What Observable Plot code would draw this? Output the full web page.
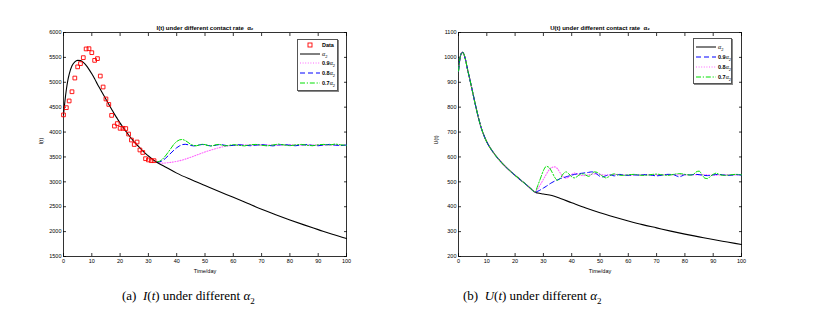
<!DOCTYPE html>
<html><head><meta charset="utf-8">
<script src="https://cdn.jsdelivr.net/npm/d3@7"></script>
<script src="https://cdn.jsdelivr.net/npm/@observablehq/plot@0.6"></script>
<style>
body{margin:0;background:#fff;}
#wrap{position:relative;width:815px;height:323px;background:#fff;overflow:hidden;}
.pl{position:absolute;top:0;}
.leg{position:absolute;border:0.8px solid #555;background:#fff;font-family:"Liberation Sans",Arial,sans-serif;font-size:5.5px;font-weight:bold;box-shadow:1px 1px 0 #888;}
.leg .row{position:absolute;left:0;height:8px;white-space:nowrap;}
.leg svg{position:absolute;left:0;top:0;}
.leg span{position:absolute;top:1px;}
.cap{position:absolute;font-family:"Liberation Serif","Times New Roman",serif;font-size:13px;white-space:nowrap;}
</style></head>
<body><div id="wrap"></div>
<script>
// ---------- data: I(t) panel ----------
const dataDays = [0,1,2,3,4,5,6,7,8,9,10,11,12,13,14,15,16,17,18,19,20,21,22,23,24,25,26,27,28,29,30,31,32];
const dataI = [4345,4490,4625,4810,5085,5310,5375,5495,5670,5675,5595,5440,5475,5125,4905,4665,4555,4335,4120,4170,4075,4075,4070,3960,3840,3750,3800,3640,3590,3465,3440,3425,3425];

const iBaseT = [0,0.5,1,1.5,2,3,4,5,6,7,8,9,10,11,12,13,14,15,16,17,18,19,20,21,22,23,24,25,26,27,28,30,32,34,36,40,45,50,55,60,65,70,75,80,85,90,95,100];
const iBase  = [4350,4620,4850,5030,5160,5330,5410,5440,5435,5400,5340,5260,5170,5070,4960,4860,4760,4660,4560,4460,4360,4270,4180,4100,4020,3940,3870,3800,3740,3680,3620,3520,3430,3360,3300,3175,3045,2925,2805,2690,2570,2450,2340,2235,2135,2040,1945,1860];

const iPinkT = [33,34,35,36,38,40,42,44,46,48,50,52,54,56,58,60,62,65,70,75,80,85,90,95,100];
const iPink  = [3395,3380,3375,3378,3392,3410,3438,3475,3515,3558,3600,3637,3672,3700,3722,3735,3742,3740,3742,3738,3742,3740,3738,3742,3740];

const iBlueT = [33,34,35,36,37,38,39,40,41,42,43,44,45,46,47,48,49,50,51,52,53,54,55,56,57,58,60,62,64,66,68,70,72,74,76,78,80,82,84,86,88,90,92,94,96,98,100];
const iBlue  = [3395,3402,3425,3470,3525,3580,3635,3685,3722,3748,3755,3745,3730,3722,3728,3742,3750,3745,3732,3722,3725,3738,3748,3745,3735,3725,3732,3745,3735,3725,3738,3748,3735,3722,3740,3750,3735,3725,3740,3748,3732,3725,3740,3752,3738,3728,3740];

const iGreenT = [33,34,35,36,37,38,39,40,41,42,43,44,45,46,47,48,49,50,51,52,53,54,55,56,57,58,60,62,64,66,68,70,72,74,76,78,80,82,84,86,88,90,92,94,96,98,100];
const iGreen  = [3395,3415,3455,3520,3595,3675,3755,3812,3843,3852,3832,3792,3752,3728,3725,3740,3755,3748,3730,3720,3730,3748,3752,3738,3722,3728,3748,3732,3722,3745,3752,3735,3722,3740,3758,3740,3725,3742,3752,3735,3725,3745,3752,3738,3760,3742,3735];

// ---------- data: U(t) panel ----------
const uBaseT = [0,0.5,1,1.5,2,2.5,3,4,5,6,7,8,9,10,12,14,16,18,20,22,24,26,27];
const uBase  = [945,995,1016,1020,1010,990,962,912,860,808,760,718,686,660,623,593,568,546,526,507,488,468,458];
const uBlackT = [28,30,33,36,40,45,50,55,60,65,70,75,80,85,90,95,100];
const uBlack  = [455,451,445,433,416,395,376,359,343,328,315,302,290,279,268,258,248];

const uBlueT = [28,29,30,31,32,33,34,35,36,38,40,42,44,46,47,48,49,50,51,52,53,54,55,56,57,58,60,62,64,66,68,70,72,74,76,77,78,79,80,82,84,86,88,90,92,94,96,98,100];
const uBlue  = [462,468,475,482,490,497,503,508,513,520,527,532,535,538,540,538,530,522,520,524,528,527,524,526,530,528,526,528,527,529,527,524,527,530,529,524,520,524,529,528,530,527,525,528,530,527,526,529,527];

const uPinkT = [28,29,30,31,32,33,34,35,36,37,38,39,40,41,42,43,44,46,48,50,52,54,56,58,60,65,70,75,80,85,90,95,100];
const uPink  = [472,490,510,530,548,558,560,552,535,520,515,520,530,535,532,527,525,528,532,530,527,528,530,528,527,528,528,529,528,529,527,528,528];

const uGreenT = [28,29,30,31,32,33,34,35,36,37,38,39,40,41,42,43,44,45,46,47,48,49,50,51,52,53,54,55,56,58,60,62,64,66,68,70,72,74,76,78,80,82,83,84,85,86,87,88,89,90,91,92,94,96,98,100];
const uGreen  = [485,515,545,562,558,540,518,506,515,532,540,532,520,516,522,530,532,527,522,530,540,538,530,522,516,520,528,532,529,526,528,530,527,526,529,531,528,526,530,533,530,527,530,540,543,530,515,513,522,530,535,530,526,528,530,528];

const xTicks = [0,10,20,30,40,50,60,70,80,90,100];
const iTicks = [1500,2000,2500,3000,3500,4000,4500,5000,5500,6000];
const uTicks = [200,300,400,500,600,700,800,900,1000,1100];

// ---------- helpers ----------
const sans = "'Liberation Sans', Arial, Helvetica, sans-serif";
const zip = (ts, vs) => ts.map((t, i) => ({t, v: vs[i]}));
const C = {black:"#000", pink:"#ff66ff", blue:"#0000ff", green:"#00e000", red:"#ff0000"};
const D = {pink:"1,1.6", blue:"5,3", green:"5,1.8,1.2,1.8"};
const plain = d => String(d);

function frameAxes(ticks) {
  return [
    Plot.frame({stroke:"#000", strokeWidth:0.8}),
    Plot.axisX({ticks:xTicks, tickSize:-3, tickPadding:6, fontSize:5.5, tickFormat:plain, label:null, strokeWidth:0.8}),
    Plot.axisX({anchor:"top", ticks:xTicks, tickSize:-3, tickFormat:() => "", label:null, strokeWidth:0.8}),
    Plot.axisY({ticks:ticks, tickSize:-3, tickPadding:5, fontSize:5.5, tickFormat:plain, label:null, strokeWidth:0.8}),
    Plot.axisY({anchor:"right", ticks:ticks, tickSize:-3, tickFormat:() => "", label:null, strokeWidth:0.8})
  ];
}
function texts(title, ylab) {
  return [
    Plot.text([title], {text:d=>d, frameAnchor:"top", dy:-7, fontWeight:"bold", fontSize:6}),
    Plot.text(["Time/day"], {text:d=>d, frameAnchor:"bottom", dy:16, fontSize:5.5}),
    Plot.text([ylab], {text:d=>d, frameAnchor:"left", dx:-22, rotate:-90, fontSize:5.5})
  ];
}

// ---------- left panel ----------
const iBaseData = zip(iBaseT, iBase);
const left = Plot.plot({
  width:400, height:280, marginLeft:63, marginRight:54, marginTop:32, marginBottom:24,
  style:{fontFamily:sans, fontSize:"5.5px", background:"transparent", overflow:"visible"},
  x:{domain:[0,100]}, y:{domain:[1500,6000]},
  marks:[
    ...frameAxes(iTicks),
    Plot.line(zip(iPinkT, iPink), {x:"t", y:"v", stroke:C.pink, strokeWidth:1.1, strokeDasharray:D.pink}),
    Plot.line(zip(iBlueT, iBlue), {x:"t", y:"v", stroke:C.blue, strokeWidth:1, strokeDasharray:D.blue}),
    Plot.line(zip(iGreenT, iGreen), {x:"t", y:"v", stroke:C.green, strokeWidth:1, strokeDasharray:D.green}),
    Plot.line(iBaseData, {x:"t", y:"v", stroke:C.black, strokeWidth:1.1, curve:"monotone-x"}),
    Plot.dot(zip(dataDays, dataI), {x:"t", y:"v", symbol:"square", r:2.1, stroke:C.red, strokeWidth:0.9}),
    ...texts("I(t) under different contact rate  α₂", "I(t)")
  ]
});
left.classList.add("pl"); left.style.left = "0px";

// ---------- right panel ----------
const uBlackAll = zip(uBaseT.concat(uBlackT), uBase.concat(uBlack));
const right = Plot.plot({
  width:415, height:280, marginLeft:58, marginRight:74, marginTop:32, marginBottom:24,
  style:{fontFamily:sans, fontSize:"5.5px", background:"transparent", overflow:"visible"},
  x:{domain:[0,100]}, y:{domain:[200,1100]},
  marks:[
    ...frameAxes(uTicks),
    Plot.line(uBlackAll, {x:"t", y:"v", stroke:C.black, strokeWidth:1.1, curve:"monotone-x"}),
    Plot.line(zip(uBaseT.concat(uPinkT), uBase.concat(uPink)), {x:"t", y:"v", stroke:C.pink, strokeWidth:1.1, strokeDasharray:D.pink, curve:"monotone-x"}),
    Plot.line(zip(uBaseT.concat(uBlueT), uBase.concat(uBlue)), {x:"t", y:"v", stroke:C.blue, strokeWidth:1, strokeDasharray:D.blue, curve:"monotone-x"}),
    Plot.line(zip(uBaseT.concat(uGreenT), uBase.concat(uGreen)), {x:"t", y:"v", stroke:C.green, strokeWidth:1, strokeDasharray:D.green, curve:"monotone-x"}),
    ...texts("U(t) under different contact rate  α₂", "U(t)")
  ]
});
right.classList.add("pl"); right.style.left = "400px";

const wrap = document.getElementById("wrap");
wrap.appendChild(left);
wrap.appendChild(right);

// ---------- legends (HTML overlays) ----------
function legend(x, y, w, h, rows, rowY, lineW, labelX) {
  const div = document.createElement("div");
  div.className = "leg";
  div.style.left = x + "px"; div.style.top = y + "px";
  div.style.width = w + "px"; div.style.height = h + "px";
  rows.forEach((r, i) => {
    const row = document.createElement("div");
    row.className = "row";
    row.style.top = (rowY[i] - 4) + "px";
    row.style.width = w + "px";
    let sym;
    if (r.type === "square") {
      sym = `<svg width="${lineW+4}" height="8"><rect x="${lineW/2}" y="2" width="4" height="4" fill="none" stroke="${r.color}" stroke-width="0.9"/></svg>`;
    } else {
      sym = `<svg width="${lineW+4}" height="8"><line x1="2" y1="4" x2="${lineW+2}" y2="4" stroke="${r.color}" stroke-width="1" ${r.dash ? `stroke-dasharray="${r.dash}"` : ""}/></svg>`;
    }
    row.innerHTML = sym + `<span style="left:${labelX}px">${r.label}</span>`;
    div.appendChild(row);
  });
  wrap.appendChild(div);
}
const a2 = '<span style="position:static;font-weight:normal;font-style:italic;font-family:\'Liberation Serif\',serif;font-size:6px">α</span><sub style="font-size:4px;font-weight:normal">2</sub>';
legend(297, 39, 39, 50, [
  {type:"square", color:C.red, label:"Data"},
  {color:C.black, label:a2},
  {color:C.pink, dash:D.pink, label:"0.9" + a2},
  {color:C.blue, dash:D.blue, label:"0.8" + a2},
  {color:C.green, dash:D.green, label:"0.7" + a2}
], [5, 14, 23, 33, 43], 20, 24);
legend(693, 38, 37, 44, [
  {color:C.black, label:a2},
  {color:C.blue, dash:D.blue, label:"0.9" + a2},
  {color:C.pink, dash:D.pink, label:"0.8" + a2},
  {color:C.green, dash:D.green, label:"0.7" + a2}
], [8, 18, 28, 38], 20, 24);

// ---------- captions ----------
const capA = document.createElement("div");
capA.className = "cap"; capA.style.left = "122px"; capA.style.top = "288px";
capA.innerHTML = "(a)&nbsp; <i>I</i>(<i>t</i>) under different <i>α</i><sub style='font-size:9px'>2</sub>";
wrap.appendChild(capA);
const capB = document.createElement("div");
capB.className = "cap"; capB.style.left = "463px"; capB.style.top = "288px";
capB.innerHTML = "(b)&nbsp; <i>U</i>(<i>t</i>) under different <i>α</i><sub style='font-size:9px'>2</sub>";
wrap.appendChild(capB);
</script></body></html>
